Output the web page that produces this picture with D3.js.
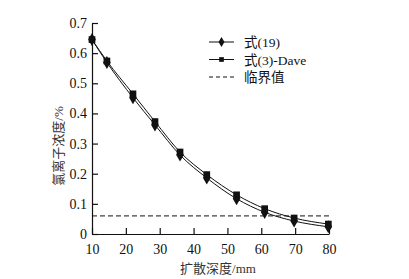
<!DOCTYPE html>
<html>
<head>
<meta charset="utf-8">
<script src="https://cdn.jsdelivr.net/npm/d3@7"></script>
<style>
  body { margin: 0; background: #fff; }
  text { font-family: "Liberation Serif", "Times New Roman", "Noto Sans CJK SC", serif; }
</style>
</head>
<body>
<svg id="drawing_region"></svg>
<script>
// depth (mm)
const depth = [10, 14.4, 22.1, 28.6, 36, 43.9, 52.7, 61, 69.7, 79.8];
// 式(19)
const eq19 = [0.645, 0.569, 0.452, 0.362, 0.262, 0.186, 0.117, 0.072, 0.043, 0.024];
// 式(3)-Dave
const dave = [0.645, 0.574, 0.465, 0.373, 0.272, 0.197, 0.130, 0.084, 0.053, 0.033];
const critical = 0.06;
const xTicks = [10, 20, 30, 40, 50, 60, 70, 80];
const yTicks = [0, 0.1, 0.2, 0.3, 0.4, 0.5, 0.6, 0.7];
const legendNames = ["式(19)", "式(3)-Dave", "临界值"];

const config = {
    width: 409,
    height: 279,
    margin: {top: 23, right: 80, bottom: 45, left: 92}
};

const svg = d3.select('#drawing_region')
    .attr('width', config.width)
    .attr('height', config.height);

const chart = svg.append('g')
    .attr('transform', `translate(${config.margin.left}, ${config.margin.top})`);

const inner_width = 329 - config.margin.left;
const inner_height = 234 - config.margin.top;

const xscale = d3.scaleLinear().domain([10, 80]).range([0, inner_width]);
const yscale = d3.scaleLinear().domain([0, 0.7]).range([inner_height, 0]);

const xaxis = d3.axisBottom(xscale).tickValues(xTicks).tickSize(-6).tickSizeOuter(0).tickPadding(10);
const yaxis = d3.axisLeft(yscale).tickValues(yTicks).tickSize(-6).tickSizeOuter(0).tickPadding(5)
    .tickFormat(d => d === 0 ? "0" : d3.format(".1f")(d));

const xg = chart.append('g')
    .attr('transform', `translate(0, ${inner_height})`)
    .call(xaxis);
const yg = chart.append('g').call(yaxis);

[xg, yg].forEach(g => {
    g.selectAll('text').attr('font-size', '14px').attr('fill', '#111')
        .style('font-family', '"Liberation Serif", serif');
    g.selectAll('line, path').attr('stroke', '#111').attr('stroke-width', 1.2);
});

// critical line
chart.append('line')
    .attr('x1', xscale(10)).attr('x2', xscale(80))
    .attr('y1', yscale(critical)).attr('y2', yscale(critical))
    .attr('stroke', '#111').attr('stroke-width', 1)
    .attr('stroke-dasharray', '5,3');

const line = d3.line()
    .x(d => xscale(d[0]))
    .y(d => yscale(d[1]))
    .curve(d3.curveMonotoneX);

const s19 = depth.map((d, i) => [d, eq19[i]]);
const sDave = depth.map((d, i) => [d, dave[i]]);

[s19, sDave].forEach(s => {
    chart.append('path')
        .datum(s)
        .attr('fill', 'none')
        .attr('stroke', '#111')
        .attr('stroke-width', 1)
        .attr('d', line);
});

const diamond = d3.symbol().type(d3.symbolDiamond).size(50);
const square = d3.symbol().type(d3.symbolSquare).size(45);

chart.selectAll('.sq').data(sDave).join('path')
    .attr('class', 'sq')
    .attr('d', square)
    .attr('fill', '#111')
    .attr('transform', d => `translate(${xscale(d[0])}, ${yscale(d[1])})`);

chart.selectAll('.dm').data(s19).join('path')
    .attr('class', 'dm')
    .attr('d', diamond)
    .attr('fill', '#111')
    .attr('transform', d => `translate(${xscale(d[0])}, ${yscale(d[1])})`);

// legend
const legend = svg.append('g').attr('transform', 'translate(209, 42)');
legendNames.forEach((name, i) => {
    const row = legend.append('g').attr('transform', `translate(0, ${i * 17.5})`);
    row.append('line')
        .attr('x1', 0).attr('x2', 25).attr('y1', 0).attr('y2', 0)
        .attr('stroke', '#111').attr('stroke-width', 1)
        .attr('stroke-dasharray', i === 2 ? '4,3' : null);
    if (i === 0) row.append('path').attr('d', d3.symbol().type(d3.symbolDiamond).size(30)).attr('transform', 'translate(12.5,0)').attr('fill', '#111');
    if (i === 1) row.append('path').attr('d', d3.symbol().type(d3.symbolSquare).size(22)).attr('transform', 'translate(12.5,0)').attr('fill', '#111');
    row.append('text')
        .attr('x', 35).attr('y', 5)
        .attr('font-size', '13.5px')
        .attr('fill', '#111')
        .text(name);
});

// axis titles
svg.append('text')
    .attr('x', 218).attr('y', 273)
    .attr('text-anchor', 'middle')
    .attr('font-size', '13px')
    .attr('fill', '#333')
    .text('扩散深度/mm');

svg.append('text')
    .attr('transform', 'translate(63, 146) rotate(-90)')
    .attr('text-anchor', 'middle')
    .attr('font-size', '13px')
    .attr('fill', '#333')
    .text('氯离子浓度/%');
</script>
</body>
</html>
